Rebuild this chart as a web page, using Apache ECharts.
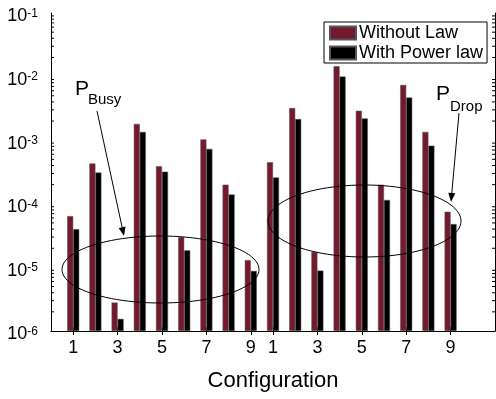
<!DOCTYPE html>
<html>
<head>
<meta charset="utf-8">
<script src="https://cdn.jsdelivr.net/npm/echarts@6/dist/echarts.min.js"></script>
<style>
  html, body { margin: 0; padding: 0; background: #fff; }
  #chart { width: 496px; height: 399px; }
</style>
</head>
<body>
<div id="chart"></div>
<script>
// configurations 1..9 of the first set, then 1..9 of the second set
const configLabels = ['1', '2', '3', '4', '5', '6', '7', '8', '9', '1', '2', '3', '4', '5', '6', '7', '8', '9'];
const withoutLaw = [6.4e-5, 4.3e-4, 2.8e-6, 1.8e-3, 3.9e-4, 3.0e-5, 1.03e-3, 2.0e-4, 1.3e-5,
                    4.5e-4, 3.2e-3, 1.75e-5, 1.45e-2, 2.9e-3, 2.0e-4, 7.4e-3, 1.35e-3, 7.5e-5];
const withPowerLaw = [4.0e-5, 3.1e-4, 1.55e-6, 1.35e-3, 3.2e-4, 1.85e-5, 7.3e-4, 1.4e-4, 8.8e-6,
                      2.6e-4, 2.15e-3, 8.9e-6, 1.0e-2, 2.2e-3, 1.15e-4, 4.7e-3, 8.2e-4, 4.8e-5];
const seriesNames = ['Without Law', 'With Power law'];
const yMinExp = -6;   // 10^-6 at the bottom
const yMaxExp = -1;   // 10^-1 at the top

// bars on an ECharts log axis grow from value 1 (above the plot), so the
// axis is linear in decades above 10^-6 and labelled as powers of ten
const toAxis = (v) => (v == null ? null : Math.log10(v) - yMinExp);

// x axis runs 0..20 like the original plot, bars sit on 1..18
const xCats = [''].concat(configLabels, ['', '']);
const pad = (arr) => [null].concat(arr.map(toAxis), [null, null]);
const shown = (i) => i > 0 && i <= configLabels.length && Number(xCats[i]) % 2 === 1;

// minor log ticks 2..9 of each decade
const minorTicks = [];
for (let e = yMinExp; e < yMaxExp; e++) {
  for (let m = 2; m <= 9; m++) minorTicks.push([0, toAxis(m * Math.pow(10, e))]);
}

const RED = '#751a2d';
const FONT = 'Liberation Sans, Arial, Helvetica, sans-serif';

function ellipsePts(cx, cy, rx, ry) {
  const pts = [];
  for (let k = 0; k <= 96; k++) {
    const a = k / 96 * Math.PI * 2;
    pts.push([cx + rx * Math.cos(a), cy + ry * Math.sin(a)]);
  }
  return pts;
}

function arrow(x1, y1, x2, y2) {
  const ang = Math.atan2(y2 - y1, x2 - x1);
  const len = 9, w = 3.5;
  const bx = x2 - len * Math.cos(ang), by = y2 - len * Math.sin(ang);
  const px = -Math.sin(ang) * w, py = Math.cos(ang) * w;
  return [
    { type: 'line', shape: { x1: x1, y1: y1, x2: bx, y2: by }, style: { stroke: '#000', lineWidth: 1 }, z: 10 },
    { type: 'polygon', shape: { points: [[x2, y2], [bx + px, by + py], [bx - px, by - py]] }, style: { fill: '#000' }, z: 10 }
  ];
}

const chart = echarts.init(document.getElementById('chart'));

const yAxisBase = {
  type: 'value',
  min: 0,
  max: yMaxExp - yMinExp,
  interval: 1,
  axisLine: { show: true, lineStyle: { color: '#000', width: 1 } },
  axisTick: { inside: true, length: 5, lineStyle: { color: '#000' } },
  splitLine: { show: false }
};

const option = {
  animation: false,
  textStyle: { fontFamily: FONT },
  grid: { left: 51, right: 1, top: 13, bottom: 68 },
  legend: {
    data: seriesNames,
    orient: 'vertical',
    left: 324,
    top: 22,
    icon: 'rect',
    itemWidth: 26,
    itemHeight: 13,
    itemGap: 0,
    padding: [1, 4, 0, 5],
    borderColor: '#000',
    borderWidth: 1,
    backgroundColor: '#fff',
    textStyle: { fontSize: 18, color: '#000', lineHeight: 20, padding: [0, 0, 0, -2] }
  },
  xAxis: [
    {
      type: 'category',
      data: xCats,
      boundaryGap: false,
      axisLine: { lineStyle: { color: '#000', width: 1 } },
      axisTick: { inside: true, length: 4, interval: (i) => shown(i), lineStyle: { color: '#000' } },
      axisLabel: {
        interval: (i) => shown(i),
        color: '#000', fontSize: 18, margin: 8, fontFamily: FONT
      },
      splitLine: { show: false },
      name: 'Configuration',
      nameLocation: 'middle',
      nameGap: 39,
      nameTextStyle: { fontSize: 22, color: '#000', fontFamily: FONT }
    },
    {
      type: 'category',
      data: xCats,
      boundaryGap: false,
      position: 'top',
      axisLine: { lineStyle: { color: '#000', width: 1 } },
      axisTick: { inside: true, length: 4, interval: (i) => shown(i), lineStyle: { color: '#000' } },
      axisLabel: { show: false },
      splitLine: { show: false }
    }
  ],
  yAxis: [
    Object.assign({}, yAxisBase, {
      axisLabel: {
        margin: 13,
        padding: [7, 0, 0, 0],
        formatter: (v) => '{b|10}{sup|' + Math.round(v + yMinExp) + '}',
        rich: {
          b: { fontSize: 18, lineHeight: 18, color: '#000', fontFamily: FONT },
          sup: { fontSize: 12, lineHeight: 12, verticalAlign: 'top', color: '#000', fontFamily: FONT }
        }
      }
    }),
    Object.assign({}, yAxisBase, { position: 'right', axisLabel: { show: false } })
  ],
  series: [
    {
      name: seriesNames[0],
      type: 'bar',
      data: pad(withoutLaw),
      barWidth: 6,
      barGap: '0%',
      itemStyle: { color: RED, borderColor: '#555', borderWidth: 0.5 }
    },
    {
      name: seriesNames[1],
      type: 'bar',
      data: pad(withPowerLaw),
      barWidth: 6,
      barGap: '0%',
      itemStyle: { color: '#000', borderColor: '#555', borderWidth: 0.5 }
    },
    {
      type: 'custom',
      silent: true,
      data: minorTicks,
      renderItem: (params, api) => {
        const y = api.coord([0, api.value(1)])[1];
        const cs = params.coordSys;
        const st = { stroke: '#000', lineWidth: 1 };
        return {
          type: 'group',
          children: [
            { type: 'line', shape: { x1: cs.x, y1: y, x2: cs.x + 3, y2: y }, style: st },
            { type: 'line', shape: { x1: cs.x + cs.width - 3, y1: y, x2: cs.x + cs.width, y2: y }, style: st }
          ]
        };
      }
    }
  ],
  graphic: [
    { type: 'polyline', shape: { points: ellipsePts(160.5, 269.5, 98.5, 33.5) }, style: { stroke: '#000', lineWidth: 1, fill: null }, z: 10 },
    { type: 'polyline', shape: { points: ellipsePts(364.5, 221, 96.5, 36) }, style: { stroke: '#000', lineWidth: 1, fill: null }, z: 10 },
    ...arrow(97, 111, 124, 236),
    ...arrow(459, 113, 451, 202),
    { type: 'text', left: 75, top: 79, style: { text: 'P', font: '21px ' + FONT, fill: '#000' }, z: 10 },
    { type: 'text', left: 88, top: 92, style: { text: 'Busy', font: '15px ' + FONT, fill: '#000' }, z: 10 },
    { type: 'text', left: 436, top: 84, style: { text: 'P', font: '21px ' + FONT, fill: '#000' }, z: 10 },
    { type: 'text', left: 450, top: 99, style: { text: 'Drop', font: '15px ' + FONT, fill: '#000' }, z: 10 }
  ]
};

chart.setOption(option);
</script>
</body>
</html>
